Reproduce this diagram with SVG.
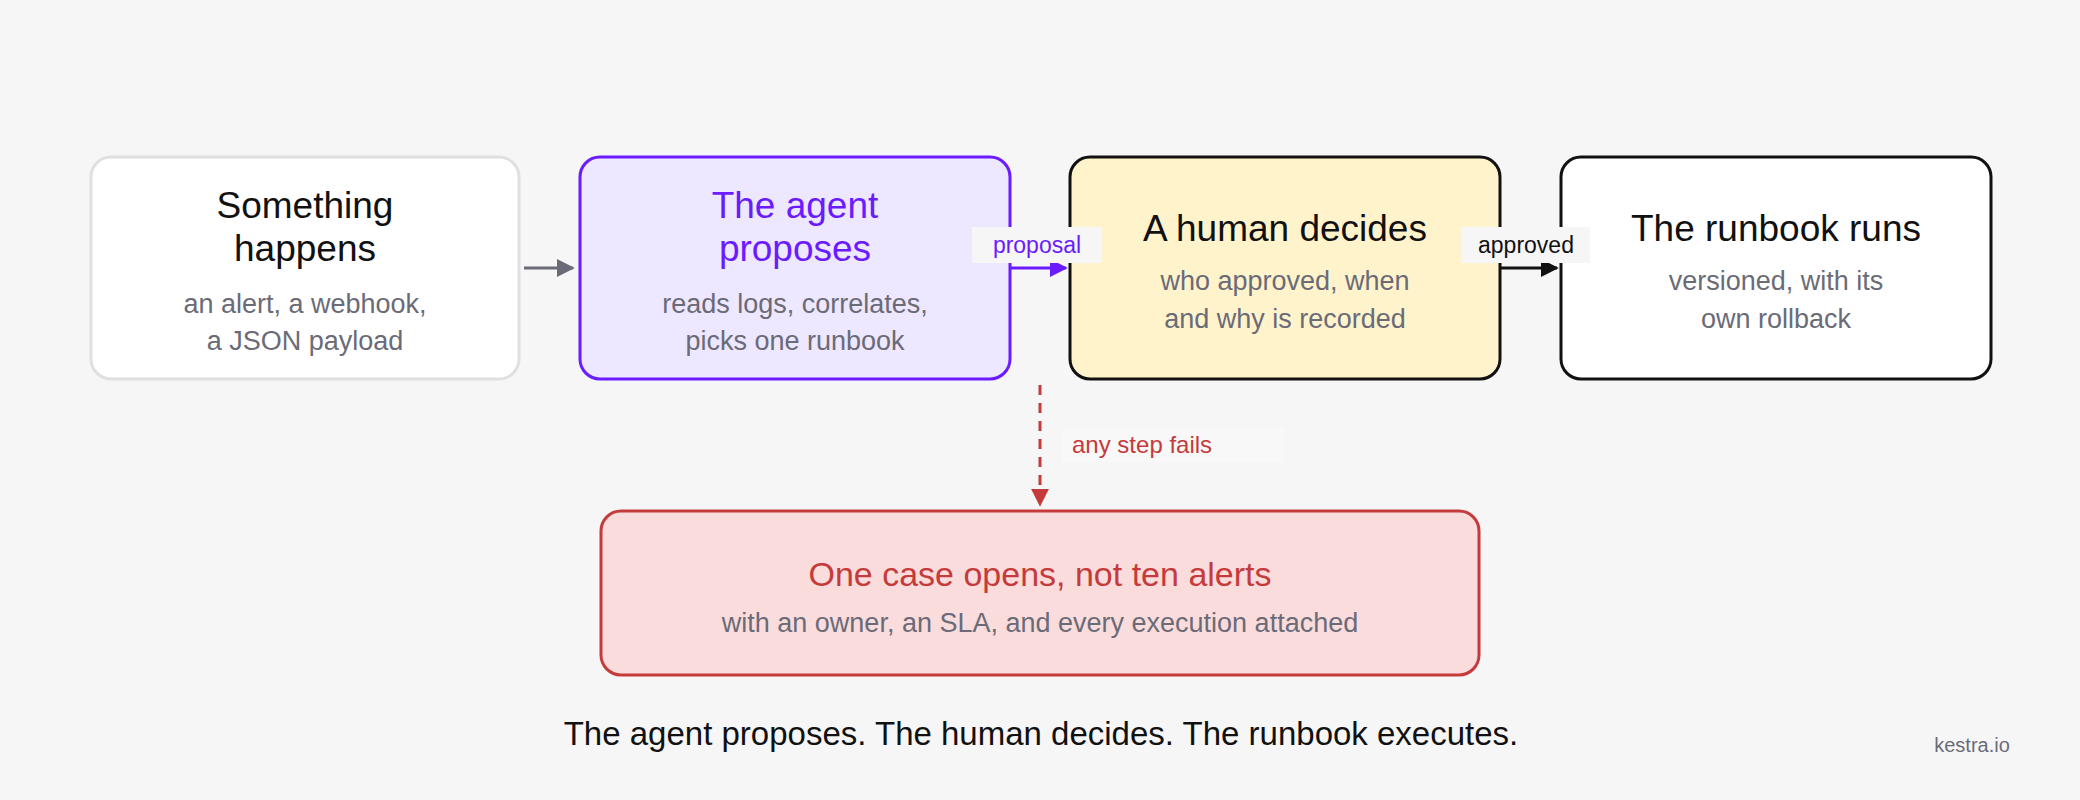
<svg xmlns="http://www.w3.org/2000/svg" width="2080" height="800" viewBox="0 0 2080 800">
<style>
text{font-family:"Liberation Sans",Arial,sans-serif;text-anchor:middle}
.t{font-size:37px;fill:#111}
.s{font-size:27px;fill:#6b6b78}
.lb{font-size:23px}
</style>
<defs>
<marker id="ag" viewBox="0 0 10 10" refX="9" refY="5" markerWidth="6" markerHeight="6" orient="auto"><path d="M0,0L10,5L0,10z" fill="#6b6b78"/></marker>
<marker id="ap" viewBox="0 0 10 10" refX="9" refY="5" markerWidth="6" markerHeight="6" orient="auto"><path d="M0,0L10,5L0,10z" fill="#6a1bff"/></marker>
<marker id="ak" viewBox="0 0 10 10" refX="9" refY="5" markerWidth="6" markerHeight="6" orient="auto"><path d="M0,0L10,5L0,10z" fill="#111"/></marker>
<marker id="ar" viewBox="0 0 10 10" refX="9" refY="5" markerWidth="6" markerHeight="6" orient="auto"><path d="M0,0L10,5L0,10z" fill="#c53b3b"/></marker>
</defs>
<rect width="2080" height="800" fill="#f6f6f6"/>
<g id="n1"><rect x="91" y="157" width="428" height="222" rx="20" fill="#fff" stroke="#e0e0e2" stroke-width="3"/>
<text class="t" x="305" y="218">Something</text><text class="t" x="305" y="261">happens</text>
<text class="s" x="305" y="313">an alert, a webhook,</text><text class="s" x="305" y="350">a JSON payload</text></g>
<g id="n2"><rect x="580" y="157" width="430" height="222" rx="20" fill="#ede7ff" stroke="#6a1bff" stroke-width="3"/>
<text class="t" x="795" y="218" style="fill:#6a1bff">The agent</text><text class="t" x="795" y="261" style="fill:#6a1bff">proposes</text>
<text class="s" x="795" y="313">reads logs, correlates,</text><text class="s" x="795" y="350">picks one runbook</text></g>
<g id="n3"><rect x="1070" y="157" width="430" height="222" rx="20" fill="#fff3cc" stroke="#111" stroke-width="3"/>
<text class="t" x="1285" y="241">A human decides</text>
<text class="s" x="1285" y="290">who approved, when</text><text class="s" x="1285" y="328">and why is recorded</text></g>
<g id="n4"><rect x="1561" y="157" width="430" height="222" rx="20" fill="#fff" stroke="#111" stroke-width="3"/>
<text class="t" x="1776" y="241">The runbook runs</text>
<text class="s" x="1776" y="290">versioned, with its</text><text class="s" x="1776" y="328">own rollback</text></g>
<g id="n5"><rect x="601" y="511" width="878" height="164" rx="20" fill="#fadcdc" stroke="#c53b3b" stroke-width="3"/>
<text class="t" x="1040" y="586" style="fill:#c53b3b;font-size:34px">One case opens, not ten alerts</text>
<text class="s" x="1040" y="632">with an owner, an SLA, and every execution attached</text></g>
<g id="connectors">
<line x1="524" y1="268" x2="573" y2="268" stroke="#6b6b78" stroke-width="3" marker-end="url(#ag)"/>
<line x1="1011" y1="268" x2="1066" y2="268" stroke="#6a1bff" stroke-width="3" marker-end="url(#ap)"/>
<rect x="972" y="227" width="130" height="36" fill="#f6f6f6"/>
<text class="lb" x="1037" y="253" fill="#6a1bff">proposal</text>
<line x1="1501" y1="268" x2="1557" y2="268" stroke="#111" stroke-width="3" marker-end="url(#ak)"/>
<rect x="1462" y="227" width="128" height="36" fill="#f6f6f6"/>
<text class="lb" x="1526" y="253" fill="#111">approved</text>
<line x1="1040" y1="385" x2="1040" y2="505" stroke="#c53b3b" stroke-width="3" stroke-dasharray="10,8" marker-end="url(#ar)"/>
<rect x="1062" y="428" width="222" height="34" fill="#f8f8f8"/>
<text class="lb" x="1072" y="453" fill="#c53b3b" style="text-anchor:start;font-size:24px">any step fails</text>
</g>
<text x="1041" y="745" style="font-size:33px" fill="#111">The agent proposes. The human decides. The runbook executes.</text>
<text x="1972" y="752" style="font-size:20px" fill="#6b6b78">kestra.io</text>
</svg>
